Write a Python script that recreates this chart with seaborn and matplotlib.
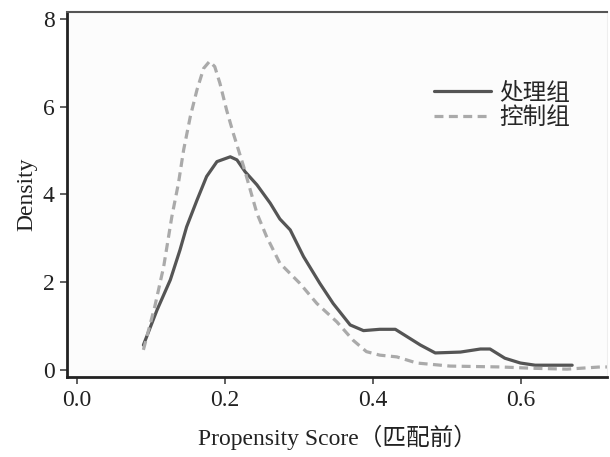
import pandas as pd
import matplotlib
matplotlib.use("Agg")
import matplotlib.pyplot as plt
import seaborn as sns

# density curves (propensity score before matching)
treated_x = [0.0896, 0.108, 0.126, 0.139, 0.148, 0.162, 0.175, 0.189, 0.207, 0.216,
             0.227, 0.243, 0.261, 0.274, 0.288, 0.306, 0.328, 0.346, 0.369, 0.387,
             0.409, 0.430, 0.464, 0.484, 0.518, 0.545, 0.558, 0.578, 0.599, 0.619,
             0.669]
treated_y = [0.56, 1.36, 2.05, 2.73, 3.26, 3.87, 4.41, 4.75, 4.86, 4.79,
             4.52, 4.22, 3.80, 3.44, 3.19, 2.58, 1.97, 1.51, 1.02, 0.89,
             0.92, 0.92, 0.56, 0.38, 0.40, 0.47, 0.47, 0.26, 0.15, 0.10,
             0.10]

control_x = [0.0896, 0.105, 0.117, 0.128, 0.137, 0.144, 0.153, 0.162, 0.171, 0.179,
             0.186, 0.193, 0.202, 0.211, 0.225, 0.243, 0.256, 0.274, 0.301, 0.324,
             0.351, 0.373, 0.391, 0.409, 0.432, 0.459, 0.504, 0.572, 0.616, 0.662,
             0.707, 0.716]
control_y = [0.45, 1.44, 2.35, 3.49, 4.26, 5.02, 5.78, 6.39, 6.88, 7.04,
             6.92, 6.54, 5.93, 5.40, 4.64, 3.57, 3.04, 2.43, 1.97, 1.51,
             1.09, 0.67, 0.41, 0.33, 0.29, 0.15, 0.08, 0.06, 0.03, 0.01,
             0.06, 0.06]

groups = ["处理组", "控制组"]
x_ticks = [0.0, 0.2, 0.4, 0.6]
y_ticks = [0, 2, 4, 6, 8]

df = pd.concat([
    pd.DataFrame({"score": treated_x, "density": treated_y, "group": groups[0]}),
    pd.DataFrame({"score": control_x, "density": control_y, "group": groups[1]}),
])

sns.set_style("ticks")
plt.rcParams["font.family"] = ["Liberation Serif", "Noto Sans CJK SC"]

fig = plt.figure(figsize=(6.1, 4.57), dpi=100)
ax = fig.add_axes([0.110, 0.175, 0.885, 0.799])
ax.set_facecolor("#fcfcfc")

sns.lineplot(data=df, x="score", y="density", hue="group", style="group",
             palette={groups[0]: "#555555", groups[1]: "#aaaaaa"},
             dashes={groups[0]: "", groups[1]: (2.8, 1.7)},
             linewidth=2.3, sort=False, estimator=None, ax=ax)

ax.set_xlim(-0.0135, 0.716)
ax.set_ylim(-0.17, 8.17)
ax.set_xticks(x_ticks)
ax.set_xticklabels([f"{t:.1f}" for t in x_ticks])
ax.set_yticks(y_ticks)
ax.tick_params(axis="both", labelsize=17, length=5, width=1.2, color="#444444",
               labelcolor="#222222", pad=4)

ax.set_xlabel("Propensity Score（匹配前）", fontsize=17, color="#222222", labelpad=10)
ax.set_ylabel("Density", fontsize=17, color="#222222", labelpad=4)

for side in ["left", "bottom"]:
    ax.spines[side].set_linewidth(2.0)
    ax.spines[side].set_color("#222222")
ax.spines["top"].set_visible(True)
ax.spines["top"].set_linewidth(1.5)
ax.spines["top"].set_color("#555555")
ax.spines["right"].set_visible(True)
ax.spines["right"].set_linewidth(0.8)
ax.spines["right"].set_color("#eeeeee")

handles, labels = ax.get_legend_handles_labels()
ax.legend(handles, labels, loc="upper left", bbox_to_anchor=(0.692, 0.845),
          bbox_transform=fig.transFigure, frameon=False, fontsize=17,
          handlelength=2.4, handletextpad=0.35, labelspacing=0.1, borderpad=0)

fig.savefig("out.png", dpi=100)
